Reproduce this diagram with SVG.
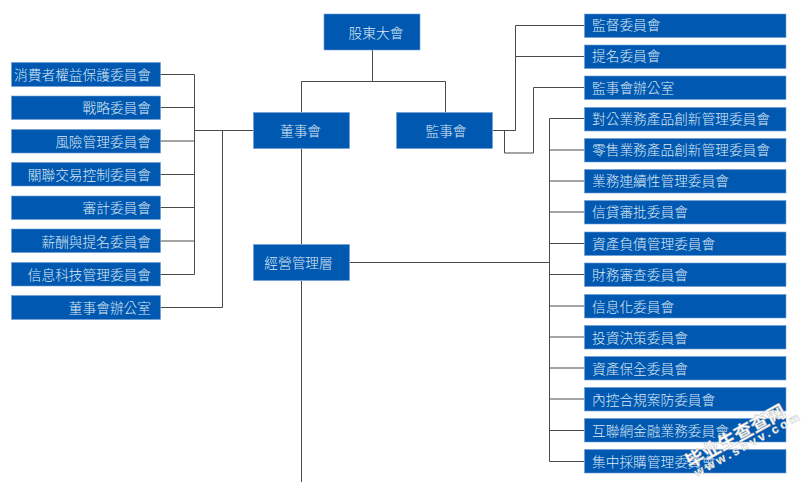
<svg xmlns="http://www.w3.org/2000/svg" width="805" height="482" viewBox="0 0 805 482">
<style>
.n{fill:#0058b0;stroke:#6f9fd6;stroke-width:.6}
text{font-family:"Noto Sans CJK TC","Noto Sans CJK SC",sans-serif;font-size:13.7px;fill:#dce8f5;font-weight:300}
.l{text-anchor:start}.r{text-anchor:end}.c{text-anchor:middle}
.k{fill:none;stroke:#4a4a4a;stroke-width:1}
.w1{fill:#fff;stroke:#bbb;stroke-width:.5;font-size:18.500px;font-weight:700}
.w2{fill:#fff;stroke:#bbb;stroke-width:.4;font-size:12px;font-weight:700;letter-spacing:3px;font-family:"Liberation Sans",sans-serif}
</style>
<rect width="805" height="482" fill="#fff"/>
<g id="connectors" class="k">
<path d="M372.500 50V81.500M301.500 112V81.500H445.500V112"/>
<path d="M301.500 149V244M301.500 281V482"/>
<path d="M160 74.500H194.500V274.500H160M160 107.500H194.500M160 141H194.500M160 174.500H194.500M160 207.500H194.500M160 241H194.500M194.500 130.500H253"/>
<path d="M222.500 130.500V307.500H160"/>
<path d="M493 130.500H515.500V25.500H584M515.500 56.500H584"/>
<path d="M504.500 130.500V153H533.500V87.500H584"/>
<path d="M350 262.500H549.500"/>
<path d="M584 118.500H549.500V461.500H584M549.500 150H584M549.500 181H584M549.500 212H584M549.500 243.500H584M549.500 274.500H584M549.500 306H584M549.500 337H584M549.500 368H584M549.500 399H584M549.500 430.500H584"/>
</g>
<g id="n-gudong"><rect class="n" x="324" y="14" width="96" height="36"/><text class="c" x="376" y="37.500">股東大會</text></g>
<g id="n-dongshi"><rect class="n" x="253.500" y="112.500" width="96" height="36"/><text class="c" x="300.500" y="136">董事會</text></g>
<g id="n-jianshi"><rect class="n" x="396.500" y="112.500" width="96" height="36"/><text class="c" x="446" y="136">監事會</text></g>
<g id="n-jingying"><rect class="n" x="253.500" y="244.500" width="96" height="36"/><text class="c" x="298.500" y="268">經營管理層</text></g>
<g id="l1"><rect class="n" x="11.500" y="62.500" width="149" height="24"/><text class="r" x="151" y="80">消費者權益保護委員會</text></g>
<g id="l2"><rect class="n" x="11.500" y="96" width="149" height="23.500"/><text class="r" x="151" y="113.300">戰略委員會</text></g>
<g id="l3"><rect class="n" x="11.500" y="129.500" width="149" height="23.500"/><text class="r" x="151" y="146.800">風險管理委員會</text></g>
<g id="l4"><rect class="n" x="11.500" y="162.500" width="149" height="23.500"/><text class="r" x="151" y="180">關聯交易控制委員會</text></g>
<g id="l5"><rect class="n" x="11.500" y="196" width="149" height="23.500"/><text class="r" x="151" y="213.300">審計委員會</text></g>
<g id="l6"><rect class="n" x="11.500" y="229" width="149" height="23.500"/><text class="r" x="151" y="246.500">薪酬與提名委員會</text></g>
<g id="l7"><rect class="n" x="11.500" y="262.500" width="149" height="23.500"/><text class="r" x="151" y="279.800">信息科技管理委員會</text></g>
<g id="l8"><rect class="n" x="11.500" y="295.500" width="149" height="24"/><text class="r" x="151" y="313">董事會辦公室</text></g>
<g id="r1"><rect class="n" x="584.500" y="14" width="201.500" height="23.500"/><text class="l" x="592" y="30">監督委員會</text></g>
<g id="r2"><rect class="n" x="584.500" y="45" width="201.500" height="23.500"/><text class="l" x="592" y="61">提名委員會</text></g>
<g id="r3"><rect class="n" x="584.500" y="76" width="201.500" height="23.500"/><text class="l" x="592" y="92.500">監事會辦公室</text></g>
<g id="r4"><rect class="n" x="584.500" y="107.500" width="201.500" height="23.500"/><text class="l" x="592" y="123.500">對公業務產品創新管理委員會</text></g>
<g id="r5"><rect class="n" x="584.500" y="138.500" width="201.500" height="23.500"/><text class="l" x="592" y="155">零售業務產品創新管理委員會</text></g>
<g id="r6"><rect class="n" x="584.500" y="169.500" width="201.500" height="23.500"/><text class="l" x="592" y="186">業務連續性管理委員會</text></g>
<g id="r7"><rect class="n" x="584.500" y="200.500" width="201.500" height="23.500"/><text class="l" x="592" y="217">信貸審批委員會</text></g>
<g id="r8"><rect class="n" x="584.500" y="232" width="201.500" height="23.500"/><text class="l" x="592" y="248.500">資產負債管理委員會</text></g>
<g id="r9"><rect class="n" x="584.500" y="263" width="201.500" height="23.500"/><text class="l" x="592" y="280">財務審查委員會</text></g>
<g id="r10"><rect class="n" x="584.500" y="294.500" width="201.500" height="23.500"/><text class="l" x="592" y="311.500">信息化委員會</text></g>
<g id="r11"><rect class="n" x="584.500" y="325.500" width="201.500" height="23.500"/><text class="l" x="592" y="342.500">投資決策委員會</text></g>
<g id="r12"><rect class="n" x="584.500" y="356.500" width="201.500" height="23.500"/><text class="l" x="592" y="373.500">資產保全委員會</text></g>
<g id="r13"><rect class="n" x="584.500" y="387.500" width="201.500" height="23.500"/><text class="l" x="592" y="405">內控合規案防委員會</text></g>
<g id="r14"><rect class="n" x="584.500" y="418.500" width="201.500" height="23.500"/><text class="l" x="592" y="436">互聯網金融業務委員會</text></g>
<g id="r15"><rect class="n" x="584.500" y="449.500" width="201.500" height="23.500"/><text class="l" x="592" y="467">集中採購管理委員會</text></g>
<g id="watermark">
<text class="w1" transform="translate(690 469) rotate(-29)">毕业生查查网</text>
<text class="w2" transform="translate(697 477) rotate(-29)">www.shvv.com</text>
</g>
</svg>
